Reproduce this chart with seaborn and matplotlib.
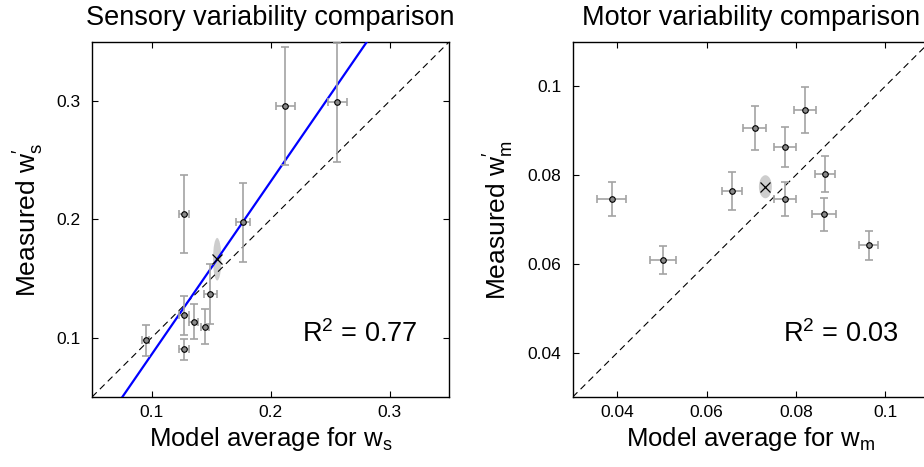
import numpy as np
import pandas as pd
import matplotlib
matplotlib.use("Agg")
import matplotlib.pyplot as plt
from matplotlib.patches import Ellipse
import seaborn as sns

# ---------------- data ----------------
# Sensory panel
sens_model = [0.095, 0.1275, 0.1275, 0.1353, 0.1448, 0.1493, 0.1275, 0.1768, 0.2123, 0.2560]
sens_meas = [0.0978, 0.0902, 0.1190, 0.1137, 0.1095, 0.1370, 0.2048, 0.1975, 0.2958, 0.2990]
sens_xerr = [0.0030, 0.0040, 0.0040, 0.0034, 0.0034, 0.0056, 0.0040, 0.0060, 0.0080, 0.0080]
sens_yerr = [0.0134, 0.0090, 0.0165, 0.0145, 0.0145, 0.0250, 0.0330, 0.0336, 0.0497, 0.0500]
sens_mean_sd = [0.0035, 0.018]   # half-width, half-height of grey ellipse
sens_r2 = "0.77"

# Motor panel
mot_model = [0.0387, 0.0503, 0.0657, 0.0708, 0.0776, 0.0776, 0.0820, 0.0865, 0.0863, 0.0963]
mot_meas = [0.0746, 0.0609, 0.0764, 0.0906, 0.0864, 0.0746, 0.0947, 0.0802, 0.0712, 0.0642]
mot_xerr = [0.0032, 0.0029, 0.0022, 0.0026, 0.0025, 0.0025, 0.0025, 0.0023, 0.0027, 0.0022]
mot_yerr = [0.0038, 0.0032, 0.0042, 0.0049, 0.0045, 0.0039, 0.0051, 0.0041, 0.0037, 0.0033]
mot_mean_sd = [0.00145, 0.0026]
mot_r2 = "0.03"

sens_ticks = [0.1, 0.2, 0.3]
sens_ticklabels = ["0.1", "0.2", "0.3"]
mot_ticks = [0.04, 0.06, 0.08, 0.1]
mot_ticklabels = ["0.04", "0.06", "0.08", "0.1"]

# ---------------- style ----------------
sns.set_style("ticks")
plt.rcParams["font.family"] = ["Liberation Sans", "DejaVu Sans"]
plt.rcParams["mathtext.fontset"] = "custom"
plt.rcParams["mathtext.rm"] = "Liberation Sans"
plt.rcParams["mathtext.it"] = "Liberation Sans"
plt.rcParams["mathtext.bf"] = "Liberation Sans:bold"
plt.rcParams["mathtext.default"] = "regular"
plt.rcParams["text.color"] = "black"
plt.rcParams["axes.labelcolor"] = "black"

fig = plt.figure(figsize=(9.24, 4.67), dpi=100)
W, H = 924, 467
ax1 = fig.add_axes([92 / W, (H - 397) / H, 357 / W, 355 / H])
ax2 = fig.add_axes([572.7 / W, (H - 397) / H, 357 / W, 355 / H])

ERR_C = "#a3a3a3"


def panel(ax, mx, my, xe, ye, sd, lims, ticks, ticklabels, r2, title, xl, yl, fit):
    df = pd.DataFrame({"model": mx, "meas": my})
    lo, hi = lims
    # identity line
    ident = pd.DataFrame({"x": [lo, hi], "y": [lo, hi]})
    sns.lineplot(data=ident, x="x", y="y", ax=ax, color="black", lw=0.8,
                 linestyle=(0, (6, 4)), zorder=2)
    cx, cy = np.mean(mx), np.mean(my)
    if fit:
        slope, icpt = np.polyfit(mx, my, 1)
        xs = np.array([lo, hi])
        fd = pd.DataFrame({"x": xs, "y": slope * xs + icpt})
        sns.lineplot(data=fd, x="x", y="y", ax=ax, color="#0000ff", lw=1.6, zorder=3)
    # grey ellipse for mean
    ax.add_patch(Ellipse((cx, cy), 2 * sd[0], 2 * sd[1], facecolor="#cdcdcd",
                         edgecolor="none", zorder=1))
    ax.errorbar(mx, my, xerr=xe, yerr=ye, fmt="none", ecolor=ERR_C, elinewidth=1.2,
                capsize=2.6, capthick=1.2, zorder=4)
    sns.scatterplot(data=df, x="model", y="meas", ax=ax, s=16, color="#8a8a8a",
                    edgecolor="black", linewidth=0.8, zorder=5)
    ax.plot([cx], [cy], marker="x", color="black", ms=6.5, mew=0.9, ls="none", zorder=6)
    ax.set_xlim(lo, hi)
    ax.set_ylim(lo, hi)
    ax.set_xticks(ticks)
    ax.set_xticklabels(ticklabels)
    ax.set_yticks(ticks)
    ax.set_yticklabels(ticklabels)
    ax.tick_params(direction="in", top=True, right=True, length=4, width=0.8,
                   labelsize=12.5, colors="black")
    ax.tick_params(axis="x", pad=6)
    ax.tick_params(axis="y", pad=8)
    for sp in ax.spines.values():
        sp.set_visible(True)
        sp.set_linewidth(1.0)
        sp.set_color("black")
    ax.set_title(title, fontsize=19.5, pad=12, color="black")
    ax.set_xlabel(xl, fontsize=18.5)
    ax.set_ylabel(yl, fontsize=19)
    ax.text(0.912, 0.155, "R$^2$ = " + r2, transform=ax.transAxes, ha="right",
            va="baseline", fontsize=19.5)


panel(ax1, sens_model, sens_meas, sens_xerr, sens_yerr, sens_mean_sd, (0.05, 0.35),
      sens_ticks, sens_ticklabels, sens_r2, "Sensory variability comparison",
      r"Model average for w$_s$", r"Measured w$^{\prime}_{s}$", True)
panel(ax2, mot_model, mot_meas, mot_xerr, mot_yerr, mot_mean_sd, (0.03, 0.11),
      mot_ticks, mot_ticklabels, mot_r2, "Motor variability comparison",
      r"Model average for w$_m$", r"Measured w$^{\prime}_{m}$", False)

ax1.xaxis.set_label_coords(0.5, -0.078)
ax2.xaxis.set_label_coords(0.5, -0.078)
ax1.yaxis.set_label_coords(-0.128, 0.5)
ax2.yaxis.set_label_coords(-0.16, 0.5)

fig.savefig("out.png", dpi=100)
